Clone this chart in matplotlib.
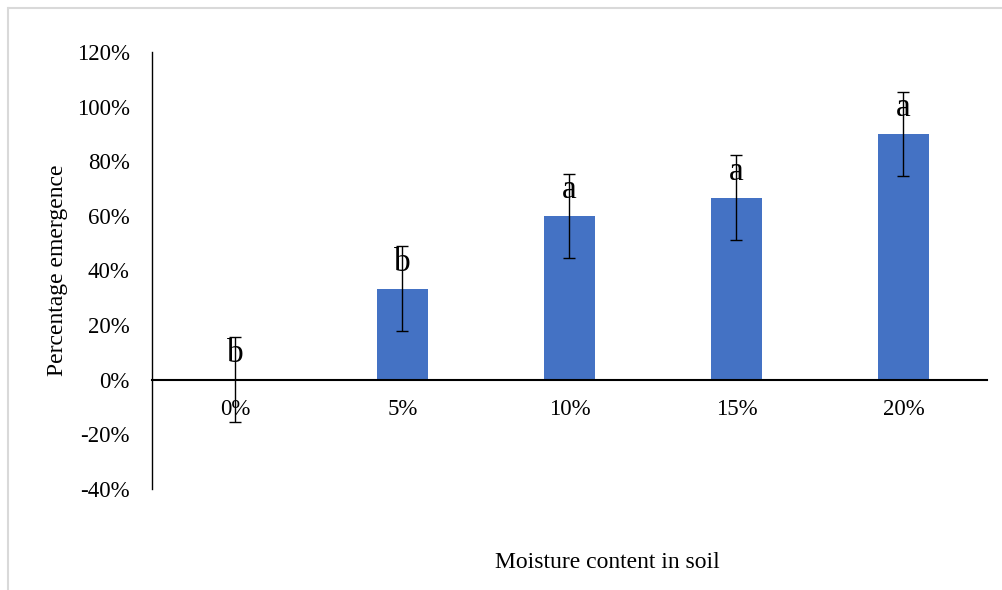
import numpy as np
import matplotlib.pyplot as plt
from matplotlib.lines import Line2D
from matplotlib.ticker import PercentFormatter

# Emergence by soil moisture level (percent), with standard error and significance letters
moisture = ["0%", "5%", "10%", "15%", "20%"]
emergence = [0.0, 33.3, 60.0, 66.7, 90.0]
std_err = [15.5, 15.5, 15.5, 15.4, 15.5]
letters = ["b", "b", "a", "a", "a"]

plt.rcParams['font.family'] = ['Liberation Serif', 'DejaVu Serif']
plt.rcParams['axes.unicode_minus'] = False

fig = plt.figure(figsize=(10.03, 5.90), dpi=100)
ax = fig.add_axes([0.1515, 0.1712, 0.8325, 0.7407])

x = np.arange(len(moisture))
ax.bar(x, emergence, width=0.31, color="#4472C4", zorder=2)
ax.errorbar(x, emergence, yerr=std_err, fmt="none", ecolor="black",
            elinewidth=1.0, capsize=4.5, capthick=1.0, zorder=3)

for xi, m, e, lab in zip(x, emergence, std_err, letters):
    ax.annotate(lab, (xi, m + e), xytext=(0, -1), textcoords="offset points",
                ha="center", va="top", fontsize=24, zorder=4)

ax.set_xlim(-0.5, 4.5)
ax.set_ylim(-40, 120)
ax.set_yticks(np.arange(-40, 121, 20))
ax.yaxis.set_major_formatter(PercentFormatter(decimals=0))
ax.set_xticks(x)
ax.set_xticklabels(moisture)

for side in ("top", "right"):
    ax.spines[side].set_visible(False)
ax.spines["bottom"].set_position(("data", 0))
ax.spines["bottom"].set_linewidth(1.5)
ax.spines["left"].set_linewidth(1.0)
ax.tick_params(axis="both", length=0, labelsize=16.5)
ax.tick_params(axis="y", pad=16)
ax.tick_params(axis="x", pad=14)

fig.text(0.057, 0.542, "Percentage emergence", rotation=90,
         ha="center", va="center", fontsize=17)
fig.text(0.606, 0.047, "Moisture content in soil", ha="center",
         va="center", fontsize=17)

# light frame along the top and left edge
fig.add_artist(Line2D([9 / 1003, 1], [1 - 7.5 / 590, 1 - 7.5 / 590],
                      color="#d9d9d9", lw=1.5, transform=fig.transFigure))
fig.add_artist(Line2D([8.5 / 1003, 8.5 / 1003], [0, 1 - 7.5 / 590],
                      color="#d9d9d9", lw=1.5, transform=fig.transFigure))

fig.savefig("out.png", dpi=100)
